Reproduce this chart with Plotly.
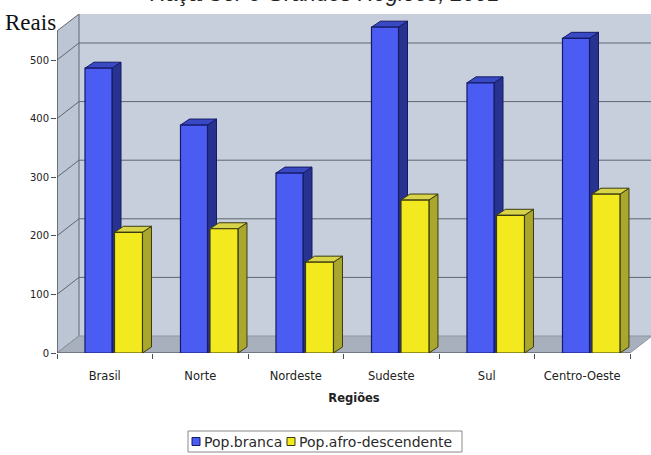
import plotly.graph_objects as go

# ---- data -------------------------------------------------------------
regioes = ["Brasil", "Norte", "Nordeste", "Sudeste", "Sul", "Centro-Oeste"]
pop_branca = [486, 389, 307, 556, 461, 537]
pop_afro = [206, 212, 155, 261, 235, 271]
y_ticks = [0, 100, 200, 300, 400, 500]

# ---- geometry (pixels -> axis units) -----------------------------------
W, H = 651, 455
L, T, B = 57, 14, 102
PX_PER_CAT = 95.5
PX_PER_UNIT = 0.586
plot_w = W - L
plot_h = H - T - B
x_lo = -0.5
x_hi = x_lo + plot_w / PX_PER_CAT
y_hi = plot_h / PX_PER_UNIT

wall_dx = 22 / PX_PER_CAT      # depth of the box (walls / floor)
wall_dy = 17 / PX_PER_UNIT
bar_dx = 9 / PX_PER_CAT        # depth of each column
bar_dy = 6 / PX_PER_UNIT

LABEL_FONT = "DejaVu Sans, Verdana, sans-serif"

series = [
    dict(name="Pop.branca", values=pop_branca, offset=-0.207, width=0.283,
         front="#4b5cf2", side="#27338e", top="#3949c4", edge="#151a66"),
    dict(name="Pop.afro-descendente", values=pop_afro, offset=0.102, width=0.293,
         front="#f2ea1e", side="#a9a82c", top="#d8d44a", edge="#3c3a10"),
]

x_pos = list(range(len(regioes)))


def poly(points):
    return "M " + " L ".join(f"{x},{y}" for x, y in points) + " Z"


def px_x(px):
    return (px - L) / plot_w


def px_y(py):
    return (H - B - py) / plot_h


shapes = []
edge = dict(color="#5f6670", width=1)

# back wall
shapes.append(dict(type="path", xref="x", yref="y", layer="below",
                   path=poly([(x_lo + wall_dx, wall_dy), (x_hi, wall_dy),
                              (x_hi, y_hi), (x_lo + wall_dx, y_hi)]),
                   fillcolor="#c7cfdc", line=dict(width=0)))
# side wall
shapes.append(dict(type="path", xref="x", yref="y", layer="below",
                   path=poly([(x_lo, 0), (x_lo + wall_dx, wall_dy),
                              (x_lo + wall_dx, y_hi), (x_lo, y_hi - wall_dy)]),
                   fillcolor="#bcc5d3", line=edge))
# floor
floor_end = len(regioes) - 0.5
shapes.append(dict(type="path", xref="x", yref="y", layer="below",
                   path=poly([(x_lo, 0), (floor_end, 0),
                              (floor_end + wall_dx, wall_dy), (x_lo + wall_dx, wall_dy)]),
                   fillcolor="#a8b0bd", line=dict(color="#8d95a2", width=1)))

# gridlines on the side wall and back wall
for v in y_ticks[1:]:
    shapes.append(dict(type="line", xref="x", yref="y", layer="below",
                       x0=x_lo, y0=v, x1=x_lo + wall_dx, y1=v + wall_dy, line=edge))
    shapes.append(dict(type="line", xref="x", yref="y", layer="below",
                       x0=x_lo + wall_dx, y0=v + wall_dy, x1=x_hi, y1=v + wall_dy,
                       line=edge))

# front axis lines
shapes.append(dict(type="line", xref="x", yref="y", layer="below",
                   x0=x_lo, y0=0, x1=x_lo, y1=y_hi - wall_dy,
                   line=dict(color="#4a4f58", width=1)))
shapes.append(dict(type="line", xref="x", yref="y", layer="below",
                   x0=x_lo, y0=0, x1=floor_end, y1=0,
                   line=dict(color="#4a4f58", width=1)))

# side and top faces of each column
for s in series:
    for xi, v in zip(x_pos, s["values"]):
        x0 = xi + s["offset"]
        x1 = x0 + s["width"]
        shapes.append(dict(type="path", xref="x", yref="y", layer="below",
                           path=poly([(x1, 0), (x1 + bar_dx, bar_dy),
                                      (x1 + bar_dx, v + bar_dy), (x1, v)]),
                           fillcolor=s["side"], line=dict(color=s["edge"], width=1)))
        shapes.append(dict(type="path", xref="x", yref="y", layer="below",
                           path=poly([(x0, v), (x1, v), (x1 + bar_dx, v + bar_dy),
                                      (x0 + bar_dx, v + bar_dy)]),
                           fillcolor=s["top"], line=dict(color=s["edge"], width=1)))

# compact legend box below the axis title
LEG_LEFT, LEG_RIGHT, LEG_TOP, LEG_BOTTOM = 188, 462, 431, 452
leg_mid = (LEG_TOP + LEG_BOTTOM) / 2
shapes.append(dict(type="rect", xref="paper", yref="paper",
                   x0=px_x(LEG_LEFT), x1=px_x(LEG_RIGHT),
                   y0=px_y(LEG_BOTTOM), y1=px_y(LEG_TOP),
                   fillcolor="white", line=dict(color="#8a8a8a", width=1)))
legend_items = [(192, 202), (287, 297)]   # (square left, text left) in pixels
annotations = []
for s, (sq_left, txt_left) in zip(series, legend_items):
    shapes.append(dict(type="rect", xref="paper", yref="paper",
                       x0=px_x(sq_left), x1=px_x(sq_left + 8),
                       y0=px_y(leg_mid + 4), y1=px_y(leg_mid - 4),
                       fillcolor=s["front"], line=dict(color=s["edge"], width=1)))
    annotations.append(dict(text=s["name"], xref="paper", yref="paper",
                            x=px_x(txt_left), y=px_y(leg_mid),
                            xanchor="left", yanchor="middle", showarrow=False,
                            font=dict(family=LABEL_FONT, size=14, color="#2a2a2a")))

annotations += [
    dict(text="Reais", xref="paper", yref="paper",
         x=px_x(3), y=px_y(8), xanchor="left", yanchor="top",
         showarrow=False,
         font=dict(family="Liberation Serif, Times New Roman, serif", size=23, color="#111")),
    dict(text="<i>Raça/Cor e Grandes Regiões, 2001</i>", xref="paper", yref="paper",
         x=px_x(325), y=px_y(8), xanchor="center", yanchor="bottom",
         showarrow=False,
         font=dict(family="Liberation Sans, Arial, sans-serif", size=22, color="#222")),
]

fig = go.Figure()
for s in series:
    fig.add_trace(go.Bar(
        x=x_pos, y=s["values"], name=s["name"],
        offset=s["offset"], width=s["width"],
        marker=dict(color=s["front"], line=dict(color=s["edge"], width=1.2)),
        hovertemplate="%{y}<extra>" + s["name"] + "</extra>",
    ))

fig.update_layout(
    width=W, height=H,
    margin=dict(l=L, r=0, t=T, b=B),
    paper_bgcolor="white",
    plot_bgcolor="white",
    barmode="overlay",
    showlegend=False,
    shapes=shapes,
    annotations=annotations,
    font=dict(family=LABEL_FONT, color="#222"),
)

fig.update_xaxes(
    range=[x_lo, x_hi],
    tickmode="array", tickvals=x_pos, ticktext=regioes,
    ticks="", showgrid=False, zeroline=False, showline=False,
    tickfont=dict(family=LABEL_FONT, size=11.5, color="#222"),
    ticklabelstandoff=14,
    minor=dict(tickmode="array", tickvals=[k - 0.5 for k in range(len(regioes) + 1)],
               ticks="outside", ticklen=5, tickcolor="#4a4f58", showgrid=False),
    title=dict(text="<b>Regiões</b>", font=dict(family=LABEL_FONT, size=11.5, color="#222"),
               standoff=12),
)
fig.update_yaxes(
    range=[0, y_hi],
    tickmode="array", tickvals=y_ticks,
    ticks="outside", ticklen=5, tickcolor="#4a4f58",
    showgrid=False, zeroline=False, showline=False,
    tickfont=dict(family=LABEL_FONT, size=10, color="#222"),
)

fig.write_html("out.html")
